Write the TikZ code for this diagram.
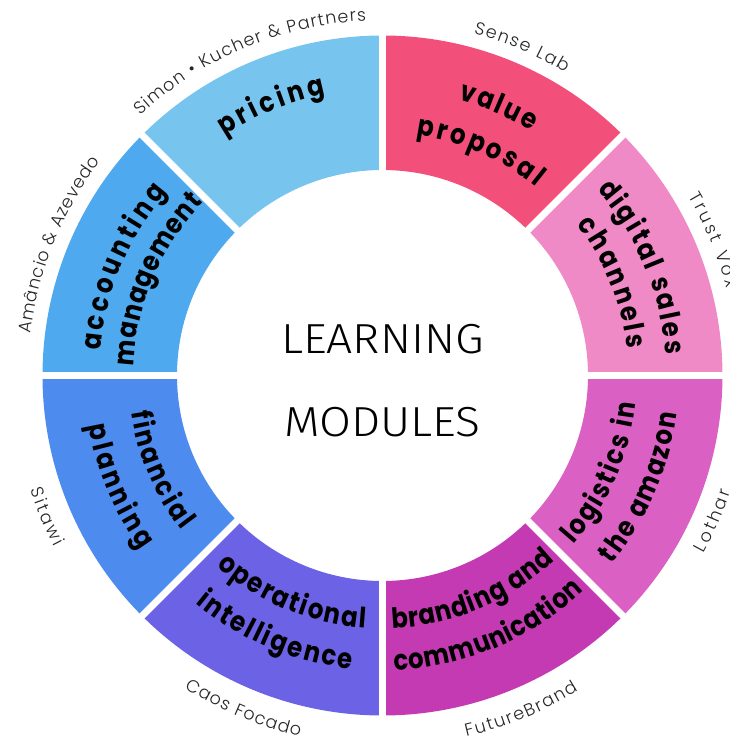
\documentclass[tikz,border=0pt]{standalone}
\usepackage{fontspec}
\usepackage{graphicx}
\usetikzlibrary{decorations.text}
\setmainfont{Poppins}
\newfontfamily\boldf{Poppins Bold}[FakeStretch=0.87]
\newfontfamily\lightf{Poppins Light}
\newfontfamily\titlef{Fira Sans Light}
\definecolor{cvalue}{HTML}{F2507B}
\definecolor{cdigital}{HTML}{F08AC7}
\definecolor{clog}{HTML}{DB60C4}
\definecolor{cbrand}{HTML}{C43AB2}
\definecolor{coper}{HTML}{6C62E5}
\definecolor{cfin}{HTML}{4D8BEF}
\definecolor{cacc}{HTML}{4EA9EF}
\definecolor{cpri}{HTML}{77C5EF}
\newcommand\modfont{\boldf\fontsize{28}{28}\selectfont}
\newcommand\firmfont{\lightf\fontsize{17.5}{17.5}\selectfont\color{black!85}}
% wedge between tikz angles a and b
\newcommand\wedgeseg[3]{\fill[#3] (#1:340) arc[start angle=#1,end angle=#2,radius=340] -- (#2:205.5) arc[start angle=#2,end angle=#1,radius=205.5] -- cycle;}
% clockwise text: radius, centre angle, length, font, text
\newcommand\cwlab[5]{\pgfmathsetmacro\hs{#3/#1*28.6479}\pgfmathsetmacro\sa{#2+\hs}\pgfmathsetmacro\ea{#2-\hs}
 \path[decorate,decoration={text along path,text={|#4|#5},text align=fit to path}] (\sa:#1) arc[start angle=\sa,end angle=\ea,radius=#1];}
% counter-clockwise text
\newcommand\cclab[5]{\pgfmathsetmacro\hs{#3/#1*28.6479}\pgfmathsetmacro\sa{#2-\hs}\pgfmathsetmacro\ea{#2+\hs}
 \path[decorate,decoration={text along path,text={|#4|#5},text align=fit to path}] (\sa:#1) arc[start angle=\sa,end angle=\ea,radius=#1];}
\begin{document}
\begin{tikzpicture}[x=1pt,y=1pt,gapline/.style={white,line width=7pt},
  titletext/.style={anchor=base,inner sep=0pt,font=\titlef\fontsize{42}{42}\selectfont}]
\useasboundingbox (-382.5,-366.5) rectangle (347.5,375.5);
\wedgeseg{45}{90}{cvalue}
\wedgeseg{0}{45}{cdigital}
\wedgeseg{-45}{0}{clog}
\wedgeseg{-90}{-45}{cbrand}
\wedgeseg{-135}{-90}{coper}
\wedgeseg{-180}{-135}{cfin}
\wedgeseg{135}{180}{cacc}
\wedgeseg{90}{135}{cpri}
\foreach \a in {0,45,90,135}{
  \draw[gapline] (\a:345) -- (\a:200);
  \draw[gapline] (\a+180:345) -- (\a+180:200);
}
\node[titletext] (learning) at (0,22.5) {\scalebox{1.1}[1]{LEARNING}};
\node[titletext] (modules) at (0,-60.5) {\scalebox{1.1}[1]{MODULES}};
% modules
\cwlab{286}{66.6}{79}{\modfont}{value}
\cwlab{243}{66.4}{132}{\modfont}{proposal}
\cwlab{284}{22.6}{182}{\modfont}{digital sales}
\cwlab{246}{22}{136}{\modfont}{channels}
\cclab{255}{-23.9}{157}{\modfont}{logistics in}
\cclab{297}{-23.4}{166}{\modfont}{the amazon}
\cclab{253}{-67.4}{180}{\modfont}{branding and}
\cclab{295}{-67.3}{210}{\modfont}{communication}
\cclab{253}{-112.4}{165}{\modfont}{operational}
\cclab{295}{-112.7}{172}{\modfont}{intelligence}
\cclab{254}{203}{130}{\modfont}{financial}
\cclab{298}{202.8}{136}{\modfont}{planning}
\cwlab{283}{157.3}{175}{\modfont}{accounting}
\cwlab{249}{157}{182}{\modfont}{management}
\cwlab{287}{112.4}{110}{\modfont}{pricing}
% firms
\cwlab{354}{67}{100}{\firmfont}{Sense Lab}
\cwlab{355}{22.3}{100}{\firmfont}{Trust Vox}
\cclab{367}{-23.7}{67}{\firmfont}{Lothar}
\cclab{371}{-67.5}{122}{\firmfont}{FutureBrand}
\cclab{370}{-112.6}{125}{\firmfont}{Caos Focado}
\cclab{370}{202.8}{63}{\firmfont}{Sitawi}
\cwlab{354}{158}{188}{\firmfont}{Amâncio {\&} Azevedo}
\cwlab{355}{112.8}{250}{\firmfont}{Simon {\textbullet} Kucher {\&} Partners}
\end{tikzpicture}
\end{document}
